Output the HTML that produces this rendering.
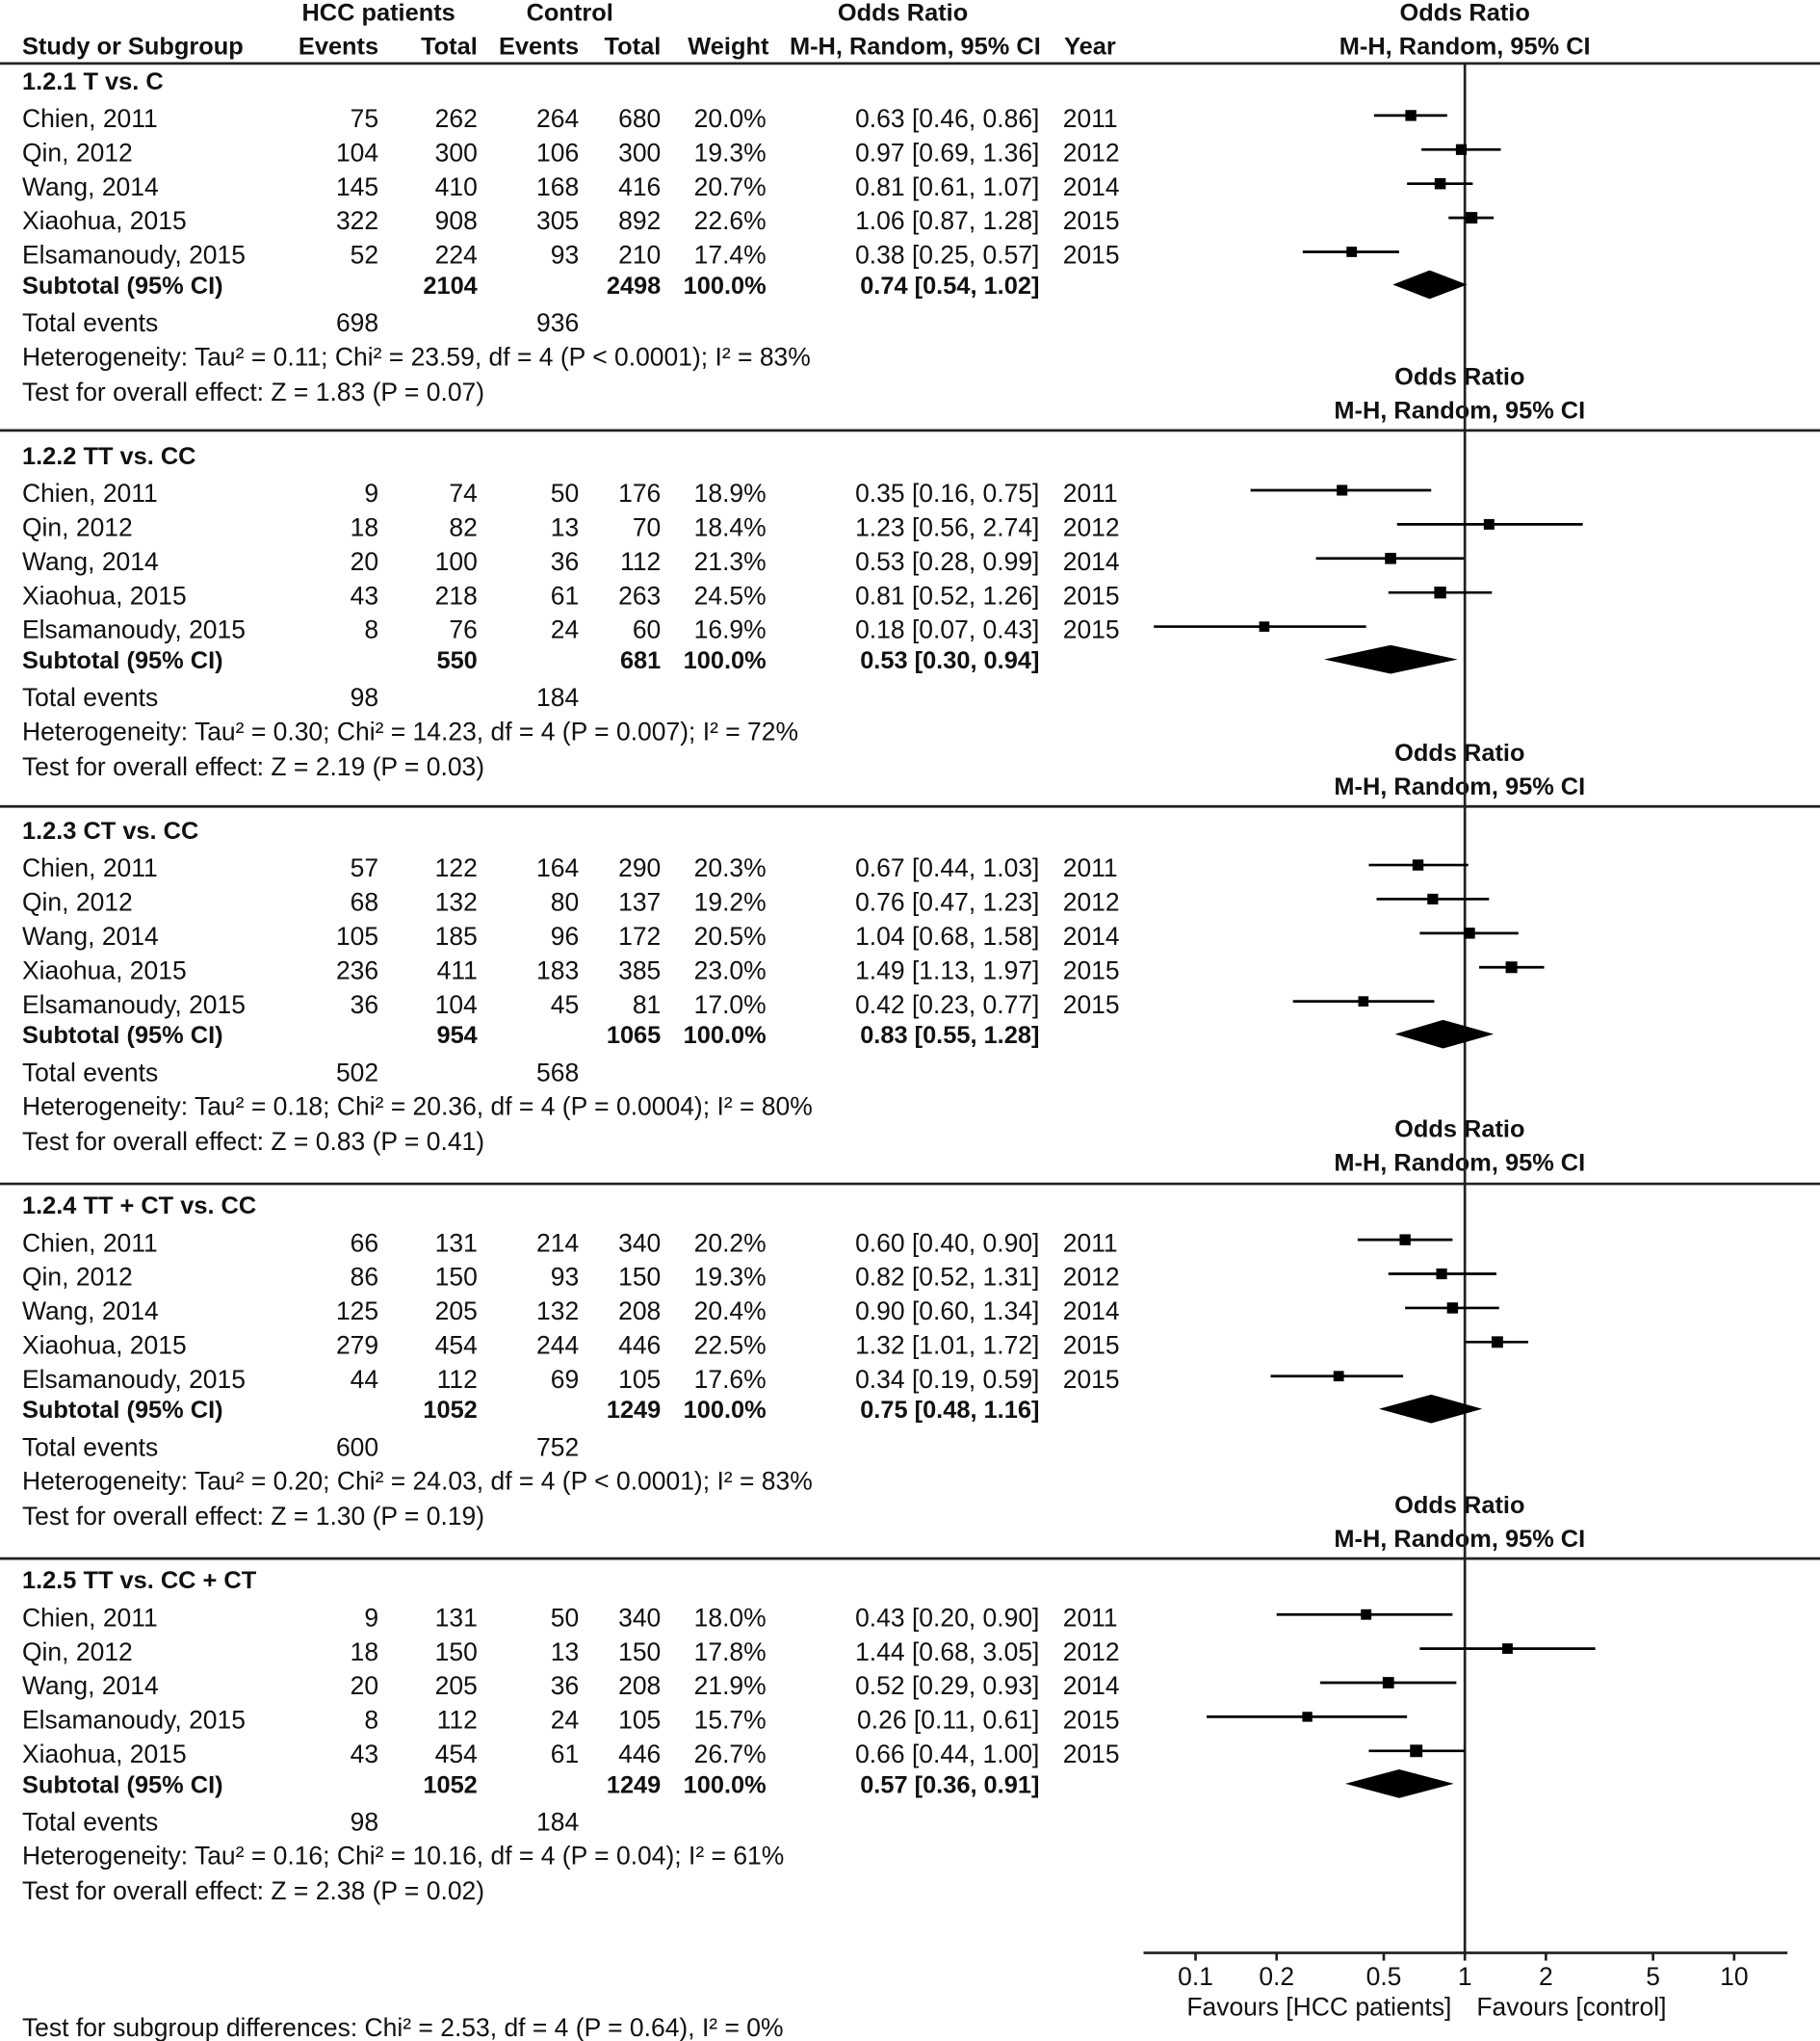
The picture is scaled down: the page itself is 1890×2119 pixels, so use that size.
<!DOCTYPE html>
<html><head><meta charset="utf-8"><style>
html,body{margin:0;padding:0;background:#fff}
svg{display:block}
text{font-family:"Liberation Sans",Arial,sans-serif;font-size:19.6px;fill:#111}
.b{font-weight:bold;font-size:18.8px}
</style></head><body>
<svg id="chart" width="1890" height="2119" viewBox="0 0 1399 1567" xmlns="http://www.w3.org/2000/svg"></svg>
<script>
// ---- data ----
const sectionTitles = ["1.2.1 T vs. C","1.2.2 TT vs. CC","1.2.3 CT vs. CC","1.2.4 TT + CT vs. CC","1.2.5 TT vs. CC + CT"];
const studyNames = [
 ["Chien, 2011","Qin, 2012","Wang, 2014","Xiaohua, 2015","Elsamanoudy, 2015"],
 ["Chien, 2011","Qin, 2012","Wang, 2014","Xiaohua, 2015","Elsamanoudy, 2015"],
 ["Chien, 2011","Qin, 2012","Wang, 2014","Xiaohua, 2015","Elsamanoudy, 2015"],
 ["Chien, 2011","Qin, 2012","Wang, 2014","Xiaohua, 2015","Elsamanoudy, 2015"],
 ["Chien, 2011","Qin, 2012","Wang, 2014","Elsamanoudy, 2015","Xiaohua, 2015"]];
const studyYears = [
 [2011,2012,2014,2015,2015],[2011,2012,2014,2015,2015],[2011,2012,2014,2015,2015],[2011,2012,2014,2015,2015],[2011,2012,2014,2015,2015]];
const hccEvents = [[75,104,145,322,52],[9,18,20,43,8],[57,68,105,236,36],[66,86,125,279,44],[9,18,20,8,43]];
const hccTotal = [[262,300,410,908,224],[74,82,100,218,76],[122,132,185,411,104],[131,150,205,454,112],[131,150,205,112,454]];
const ctlEvents = [[264,106,168,305,93],[50,13,36,61,24],[164,80,96,183,45],[214,93,132,244,69],[50,13,36,24,61]];
const ctlTotal = [[680,300,416,892,210],[176,70,112,263,60],[290,137,172,385,81],[340,150,208,446,105],[340,150,208,105,446]];
const weights = [[20.0,19.3,20.7,22.6,17.4],[18.9,18.4,21.3,24.5,16.9],[20.3,19.2,20.5,23.0,17.0],[20.2,19.3,20.4,22.5,17.6],[18.0,17.8,21.9,15.7,26.7]];
const orEst = [[0.63,0.97,0.81,1.06,0.38],[0.35,1.23,0.53,0.81,0.18],[0.67,0.76,1.04,1.49,0.42],[0.60,0.82,0.90,1.32,0.34],[0.43,1.44,0.52,0.26,0.66]];
const orLo = [[0.46,0.69,0.61,0.87,0.25],[0.16,0.56,0.28,0.52,0.07],[0.44,0.47,0.68,1.13,0.23],[0.40,0.52,0.60,1.01,0.19],[0.20,0.68,0.29,0.11,0.44]];
const orHi = [[0.86,1.36,1.07,1.28,0.57],[0.75,2.74,0.99,1.26,0.43],[1.03,1.23,1.58,1.97,0.77],[0.90,1.31,1.34,1.72,0.59],[0.90,3.05,0.93,0.61,1.00]];
const subHcc = [2104,550,954,1052,1052];
const subCtl = [2498,681,1065,1249,1249];
const subOr = [0.74,0.53,0.83,0.75,0.57];
const subLo = [0.54,0.30,0.55,0.48,0.36];
const subHi = [1.02,0.94,1.28,1.16,0.91];
const totHcc = [698,98,502,600,98];
const totCtl = [936,184,568,752,184];
const hetText = [
 "Heterogeneity: Tau² = 0.11; Chi² = 23.59, df = 4 (P < 0.0001); I² = 83%",
 "Heterogeneity: Tau² = 0.30; Chi² = 14.23, df = 4 (P = 0.007); I² = 72%",
 "Heterogeneity: Tau² = 0.18; Chi² = 20.36, df = 4 (P = 0.0004); I² = 80%",
 "Heterogeneity: Tau² = 0.20; Chi² = 24.03, df = 4 (P < 0.0001); I² = 83%",
 "Heterogeneity: Tau² = 0.16; Chi² = 10.16, df = 4 (P = 0.04); I² = 61%"];
const effText = [
 "Test for overall effect: Z = 1.83 (P = 0.07)","Test for overall effect: Z = 2.19 (P = 0.03)",
 "Test for overall effect: Z = 0.83 (P = 0.41)","Test for overall effect: Z = 1.30 (P = 0.19)",
 "Test for overall effect: Z = 2.38 (P = 0.02)"];
const tickValues = [0.1,0.2,0.5,1,2,5,10];
const tickLabels = ["0.1","0.2","0.5","1","2","5","10"];

// ---- helpers ----
const svg = document.getElementById('chart');
const NS = "http://www.w3.org/2000/svg";
function el(tag, attrs){const e=document.createElementNS(NS,tag);for(const k in attrs)e.setAttribute(k,attrs[k]);svg.appendChild(e);return e;}
function txt(s,x,y,anchor,cls){const t=el('text',{x:x,y:y,'text-anchor':anchor||'start'});if(cls)t.setAttribute('class',cls);t.textContent=s;return t;}
const X0=1126, DEC=207;
function xs(v){return X0+Math.log10(v)*DEC;}
const f2=v=>v.toFixed(2);

// header
let t;
t=txt("HCC patients",291,15,'middle','b');  
t=txt("Control",438,15,'middle','b');  
t=txt("Odds Ratio",694,15,'middle','b');  
t=txt("Odds Ratio",1126,15,'middle','b');  
const hdr=[["Study or Subgroup",17,'start'],["Events",291,'end'],["Total",367,'end'],["Events",445,'end'],["Total",508,'end'],["Weight",591,'end'],["M-H, Random, 95% CI",800,'end'],["Year",818,'start'],["M-H, Random, 95% CI",1126,'middle']];
hdr.forEach(h=>{const e=txt(h[0],h[1],41,h[2],'b');});

const bases=[61,349,637,925,1213];
const lineYs=[48,330,619,909,1197];
lineYs.forEach(y=>{const l=el('line',{x1:0,x2:1399,y1:y,y2:y,stroke:'#222','stroke-width':2});});
// sub-plot headers
[289,578,867,1156].forEach((y,i)=>{
 const a=txt("Odds Ratio",1122,y+6,'middle','b');
 const b=txt("M-H, Random, 95% CI",1122,y+32,'middle','b');
});
// null line
const nl=el('line',{x1:X0,x2:X0,y1:48,y2:1500,stroke:'#222','stroke-width':2});


for(let s=0;s<5;s++){
 const b=bases[s];
 const st=txt(sectionTitles[s],17,b+7,'start','b');
 for(let i=0;i<5;i++){
  const y=b+29+i*26.2, ty=y+7;
  const cells=[[studyNames[s][i],17,'start'],[hccEvents[s][i],291,'end'],[hccTotal[s][i],367,'end'],[ctlEvents[s][i],445,'end'],[ctlTotal[s][i],508,'end'],[weights[s][i].toFixed(1)+"%",589,'end'],[f2(orEst[s][i])+" ["+f2(orLo[s][i])+", "+f2(orHi[s][i])+"]",799,'end'],[studyYears[s][i],817,'start']];
  cells.forEach(c=>{const e=txt(String(c[0]),c[1],ty,c[2]);});
  const ci=el('line',{x1:xs(orLo[s][i]),x2:xs(orHi[s][i]),y1:y-2,y2:y-2,stroke:'#000','stroke-width':2});
  
  const sz=5+weights[s][i]*0.17;
  const sq=el('rect',{x:xs(orEst[s][i])-sz/2,y:y-2-sz/2,width:sz,height:sz,fill:'#000'});
  
 }
 const sy=b+157;
 [["Subtotal (95% CI)",17,'start'],[subHcc[s],367,'end'],[subCtl[s],508,'end'],["100.0%",589,'end'],[f2(subOr[s])+" ["+f2(subLo[s])+", "+f2(subHi[s])+"]",799,'end']].forEach(c=>{
  const e=txt(String(c[0]),c[1],sy+7,c[2],'b');});
 const dm=el('polygon',{points:`${xs(subLo[s])},${sy} ${xs(subOr[s])},${sy-11} ${xs(subHi[s])},${sy} ${xs(subOr[s])},${sy+11}`,fill:'#000'});
 
 [["Total events",17,'start'],[totHcc[s],291,'end'],[totCtl[s],445,'end']].forEach(c=>{
  const e=txt(String(c[0]),c[1],b+193,c[2]);});
 const h=txt(hetText[s],17,b+219);
 const z=txt(effText[s],17,b+246);
}
// axis
const ax=el('line',{x1:879,x2:1374,y1:1500,y2:1500,stroke:'#222','stroke-width':2});

tickValues.forEach((v,i)=>{
 const tk=el('line',{x1:xs(v),x2:xs(v),y1:1500,y2:1506,stroke:'#222','stroke-width':2});
 
 const l=txt(tickLabels[i],xs(v),1525,'middle');
});
t=txt("Favours [HCC patients]",1014,1548,'middle');
t=txt("Favours [control]",1208,1548,'middle');
t=txt("Test for subgroup differences: Chi² = 2.53, df = 4 (P = 0.64), I² = 0%",17,1564);
</script>
</body></html>
